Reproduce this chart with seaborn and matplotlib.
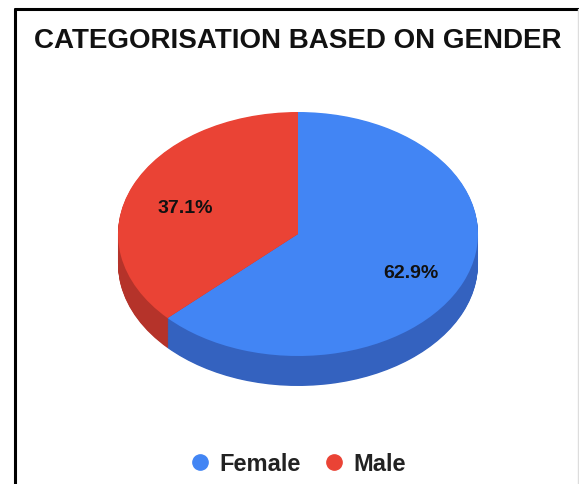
import matplotlib
matplotlib.use("Agg")
import matplotlib.pyplot as plt
from matplotlib.lines import Line2D
import seaborn as sns

categories = ["Female", "Male"]
values = [62.9, 37.1]
title = "CATEGORISATION BASED ON GENDER"

top_colors = ["#4285F4", "#EA4335"]
side_colors = ["#3462BF", "#B5332A"]

sns.set_theme(style="white")
plt.rcParams["font.family"] = ["Liberation Sans", "DejaVu Sans"]

W, H = 579, 485
fig = plt.figure(figsize=(W / 100, H / 100), dpi=100)
ax = fig.add_axes([0, 0, 1, 1])

cx, cy, rx, ry = 298, 235, 180, 122
depth = 30 / ry

# extrusion (side)
n = 40
for k in range(n, 0, -1):
    off = depth * k / n
    ax.pie(values, colors=side_colors, startangle=90, counterclock=False,
           center=(0, -off), radius=1, wedgeprops=dict(linewidth=0))

# top face
wedges, _, autotexts = ax.pie(values, colors=top_colors, startangle=90, counterclock=False,
                              center=(0, 0), radius=1, autopct="%1.1f%%", pctdistance=0.68,
                              wedgeprops=dict(linewidth=0),
                              textprops=dict(fontsize=14, fontweight="bold", color="#111111"))
for t in autotexts:
    x, y = t.get_position()
    t.set_position((x, y - 0.05))

ax.set_aspect("auto")
ax.set_xlim(-cx / rx, (W - cx) / rx)
ax.set_ylim(-(H - cy) / ry, cy / ry)
ax.axis("off")

fig.text(cx / W, 1 - 41 / H, title, ha="center", va="center",
         fontsize=20, fontweight="bold", color="#111111")

handles = [Line2D([0], [0], marker="o", linestyle="", markersize=11,
                  markerfacecolor=c, markeredgecolor=c) for c in top_colors]
fig.legend(handles, categories, loc="center", bbox_to_anchor=(291 / W, 1 - 465 / H),
           ncol=2, frameon=False, handletextpad=-0.18, columnspacing=0.4,
           prop=dict(size=17, weight="bold"), labelcolor="#222222")

# frame lines
fig.add_artist(Line2D([15 / W, 15 / W], [0, 1 - 10 / H], transform=fig.transFigure,
                      color="black", linewidth=2.2))
fig.add_artist(Line2D([15 / W, 1], [1 - 10 / H, 1 - 10 / H], transform=fig.transFigure,
                      color="black", linewidth=2.2))
fig.add_artist(Line2D([578 / W, 578 / W], [0, 1 - 10 / H], transform=fig.transFigure,
                      color="#dddddd", linewidth=1))

fig.savefig("out.png", dpi=100, facecolor="white")
